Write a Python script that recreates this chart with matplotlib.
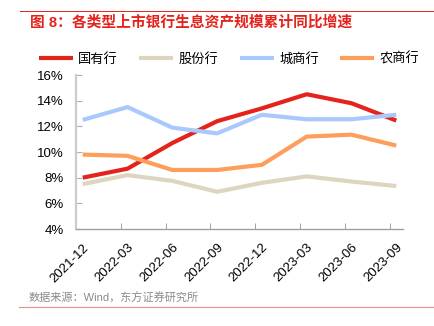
import matplotlib
matplotlib.use('Agg')
import matplotlib.pyplot as plt
import numpy as np

plt.rcParams['font.family'] = ['Liberation Sans', 'Noto Sans CJK SC']
plt.rcParams['axes.unicode_minus'] = False

# quarter labels and YoY growth (%) per bank group
quarters = ['2021-12', '2022-03', '2022-06', '2022-09',
            '2022-12', '2023-03', '2023-06', '2023-09']
state_owned = [8.0, 8.7, 10.7, 12.4, 13.4, 14.5, 13.8, 12.45]
joint_stock = [7.5, 8.2, 7.75, 6.9, 7.6, 8.1, 7.7, 7.35]
city_comm = [12.5, 13.5, 11.9, 11.45, 12.9, 12.55, 12.55, 12.9]
rural_comm = [9.8, 9.7, 8.6, 8.6, 9.0, 11.2, 11.35, 10.5]

series = [
    ('国有行', state_owned, '#e3231c'),
    ('股份行', joint_stock, '#ddd5c0'),
    ('城商行', city_comm, '#a9c9fc'),
    ('农商行', rural_comm, '#fd9f5b'),
]

fig = plt.figure(figsize=(4.34, 3.26), dpi=100)
ax = fig.add_axes([76 / 434, 1 - 229 / 326, 327 / 434, 154 / 326])

x = np.arange(len(quarters))
for name, vals, color in series:
    ax.plot(x, vals, color=color, lw=3.0, label=name, solid_capstyle='butt')

ax.set_xlim(-0.15, len(quarters) - 0.85)
ax.set_ylim(4, 16)
ax.set_yticks(np.arange(4, 17, 2))
ax.set_yticklabels(['%d%%' % v for v in range(4, 17, 2)], fontsize=9.5)

# labels sit under each point, tick marks between categories
ax.set_xticks(x)
ax.set_xticklabels(quarters, rotation=45, ha='right', rotation_mode='anchor', fontsize=9.5)
ax.tick_params(axis='x', which='major', length=0, pad=9)
ax.set_xticks(x - 0.15, minor=True)
ax.tick_params(axis='x', which='minor', direction='in', length=4, color='#909090')
ax.tick_params(axis='y', direction='in', length=4, color='#b0b0b0', pad=9)

for s in ('top', 'right'):
    ax.spines[s].set_visible(False)
ax.spines['left'].set_color('#cccccc')
ax.spines['left'].set_linewidth(1.6)
ax.spines['bottom'].set_color('#a0a0a0')
ax.spines['bottom'].set_linewidth(1.0)

leg = fig.legend(loc='center', bbox_to_anchor=(229 / 434, 1 - 59 / 326), ncol=4,
                 frameon=False, fontsize=9.5, handlelength=2.6, columnspacing=1.6,
                 handletextpad=0.4)

# header and footer rules
fig.add_artist(plt.Line2D([20 / 434, 1.0], [1 - 11 / 326] * 2, color='#e3231c', lw=0.7))
fig.add_artist(plt.Line2D([19 / 434, 1.0], [1 - 307 / 326] * 2, color='#ec8c8c', lw=0.8))

fig.text(30 / 434, 1 - 22 / 326, '图 8：各类型上市银行生息资产规模累计同比增速',
         color='#e3231c', fontsize=10.6, fontweight='bold', va='center', ha='left')
fig.text(29 / 434, 1 - 298 / 326, '数据来源：Wind，东方证券研究所',
         color='#8a8a8a', fontsize=8, va='center', ha='left')

fig.savefig('out.png', dpi=100)
